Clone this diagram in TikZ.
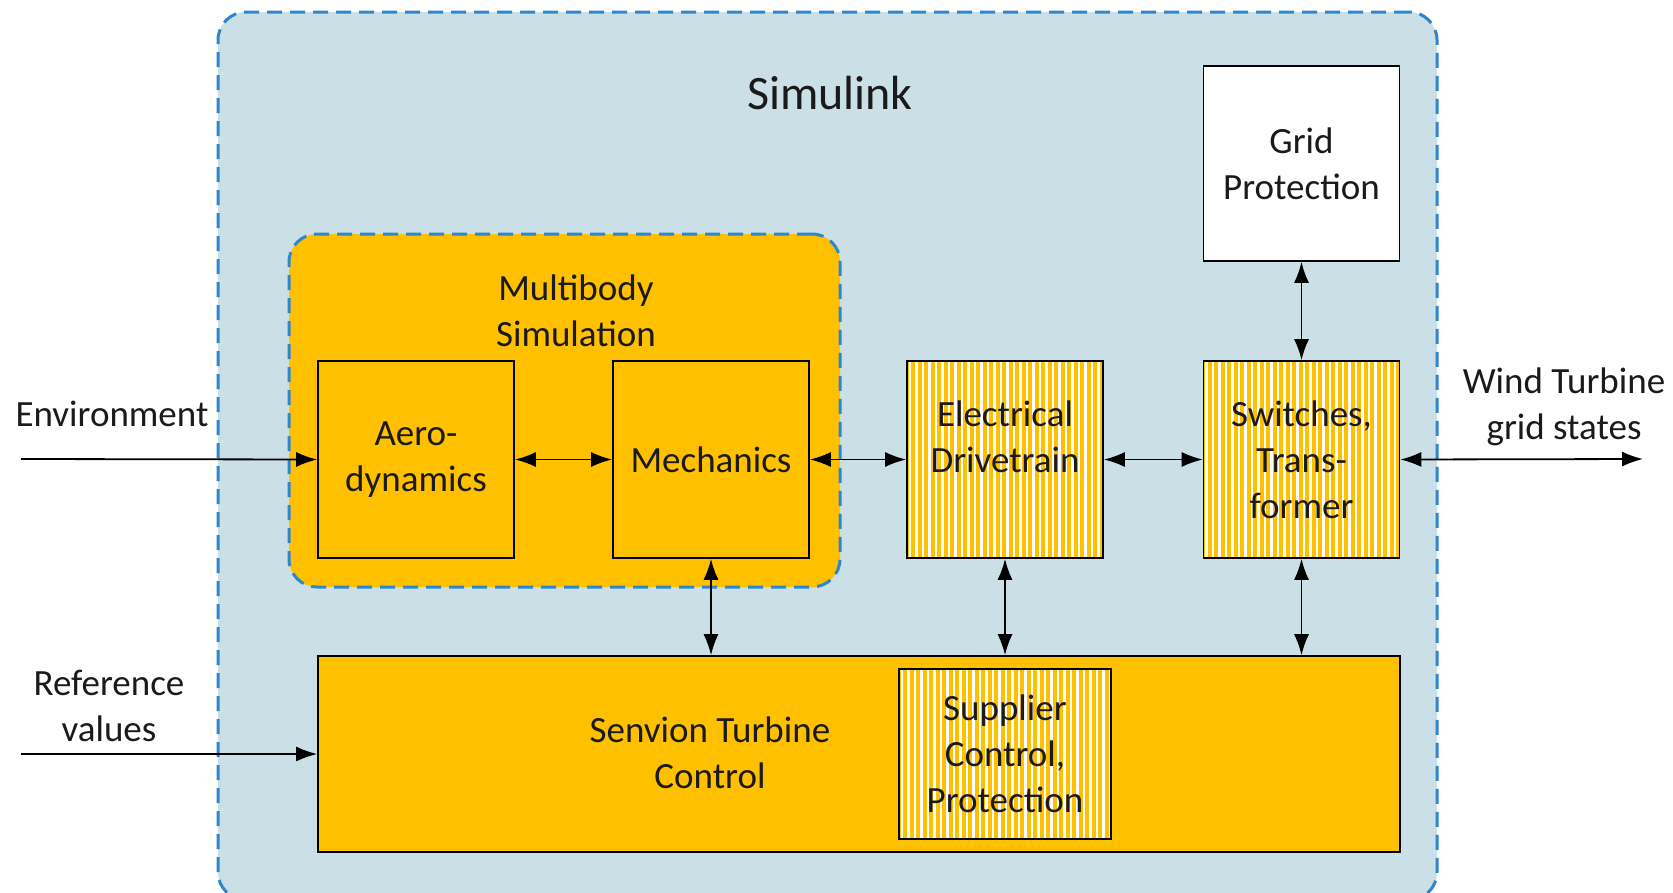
\documentclass[tikz,border=0pt]{standalone}
\usepackage{fontspec}
\setmainfont{Carlito}
\usetikzlibrary{arrows.meta}

\definecolor{simbg}{RGB}{203,223,230}
\definecolor{dashblue}{RGB}{46,134,204}
\definecolor{sysorange}{RGB}{255,192,0}
\definecolor{txtgray}{RGB}{26,26,26}

\tikzset{
  block/.style={draw=black, line width=1.6pt, fill=sysorange, inner sep=0pt,
    minimum width=196pt, minimum height=197pt, align=center, text=txtgray,
    font=\fontsize{37}{46}\selectfont},
  striped/.style={block, path picture={
    \foreach \i in {0,...,40}
      \draw[white, line width=2.2pt]
        ([xshift=\i*6.5pt+3pt]path picture bounding box.south west) --
        ([xshift=\i*6.5pt+3pt]path picture bounding box.north west);}},
  lbl/.style={align=center, text=txtgray, inner sep=0pt,
    font=\fontsize{37}{46}\selectfont},
  group/.style={draw=dashblue, line width=3pt, dash pattern=on 15pt off 8pt,
    rounded corners=28pt, inner sep=0pt},
  >={Latex[length=21pt,width=15pt]},
  link/.style={line width=1.8pt, <->},
  feed/.style={line width=1.8pt, ->}
}

\begin{document}
\begin{tikzpicture}[x=1pt, y=-1pt]
  \useasboundingbox (0,0) rectangle (1673,892);
  \clip (0,0) rectangle (1673,892);

  % containers
  \node[group, fill=simbg, minimum width=1219pt, minimum height=888pt] (simulink) at (827.5,456) {};
  \node[lbl, font=\fontsize{48}{58}\selectfont] (simtitle) at (830,93) {Simulink};
  \node[group, fill=sysorange, minimum width=551pt, minimum height=353pt] (mbs) at (564.5,410.5) {};
  \node[lbl] (mbstitle) at (576,311) {Multibody\\Simulation};

  % blocks
  \node[block] (aero) at (416,459.5) {Aero-\\dynamics};
  \node[block] (mech) at (711,459.5) {Mechanics};
  \node[striped] (elec) at (1005,459.5) {};
  \node[lbl] (electext) at (1005,437) {Electrical\\Drivetrain};
  \node[striped] (switch) at (1301.5,459.5) {Switches,\\Trans-\\former};
  \node[block, fill=white, minimum height=195pt] (grid) at (1301.5,163.5) {Grid\\Protection};
  \node[block, minimum width=1082pt, minimum height=196pt] (control) at (859,754) {};
  \node[lbl] (ctrltext) at (710,753) {Senvion Turbine\\Control};
  \node[striped, minimum width=212pt, minimum height=170pt] (supplier) at (1005,754) {Supplier\\Control,\\Protection};

  % outside signals
  \node[lbl] (env) at (112,414) {Environment};
  \node[lbl] (ref) at (109,706) {Reference\\values};
  \node[lbl] (gridstates) at (1564,407) {Wind Turbine\\grid states};
  \coordinate (envin) at (21,459);
  \coordinate (refin) at (21,754);
  \coordinate (gridout) at (1643,459);

  % connectors
  \draw[feed] (envin) -- (aero.west);
  \draw[feed] (refin) -- (refin -| control.west);
  \draw[link] (switch.east) -- (gridout);
  \draw[link] (aero) -- (mech);
  \draw[link] (mech) -- (elec);
  \draw[link] (elec) -- (switch);
  \draw[link] (grid) -- (switch);
  \draw[link] (mech.south) -- (mech.south |- control.north);
  \draw[link] (elec.south) -- (elec.south |- control.north);
  \draw[link] (switch.south) -- (switch.south |- control.north);
\end{tikzpicture}
\end{document}
